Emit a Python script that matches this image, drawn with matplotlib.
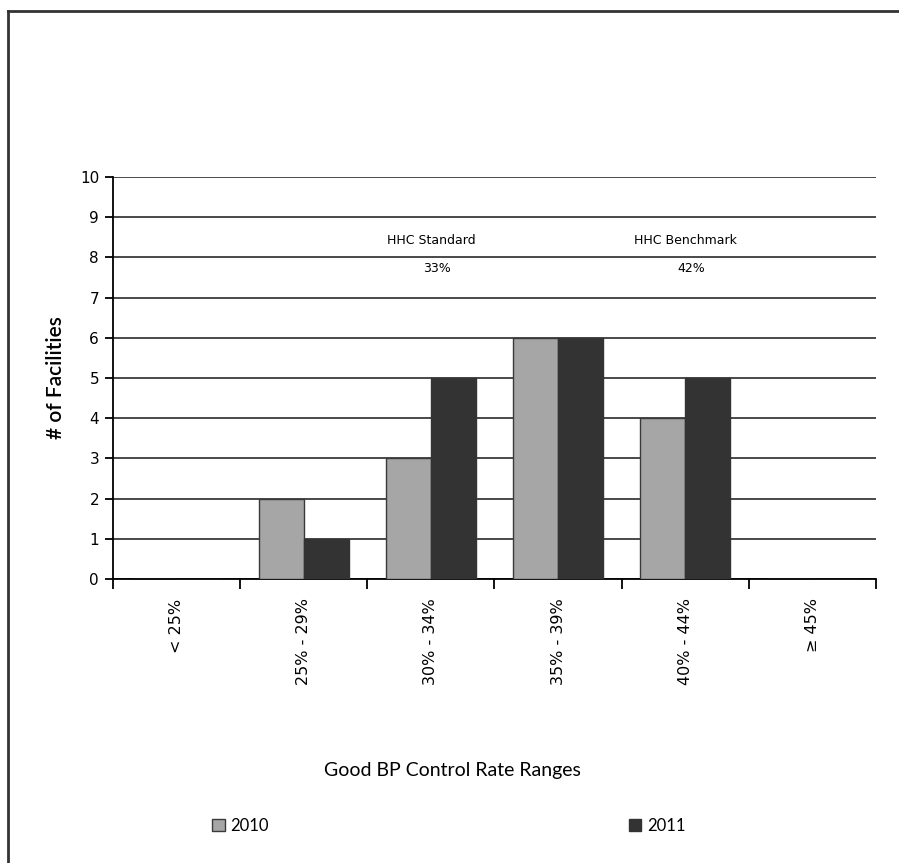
import matplotlib
matplotlib.use("Agg")
import matplotlib.pyplot as plt
from matplotlib.patches import Patch
from matplotlib.lines import Line2D
import numpy as np

# categories and counts per year
ranges = ["< 25%", "25% - 29%", "30% - 34%", "35% - 39%", "40% - 44%", "\u2265 45%"]
counts_2010 = [0, 2, 3, 6, 4, 0]
counts_2011 = [0, 1, 5, 6, 5, 0]
years = ["2010", "2011"]

# reference lines written above the bars
ref_labels = ["HHC Standard", "HHC Benchmark"]
ref_values = ["33%", "42%"]
ref_pos = [2, 4]

c2010 = "#a6a6a6"
c2011 = "#333333"

fig = plt.figure(figsize=(8.99, 8.63), dpi=100)
ax = fig.add_axes([0.1257, 0.3291, 0.8487, 0.4658])

x = np.arange(len(ranges))
w = 0.355
ax.bar(x - w / 2, counts_2010, w, color=c2010, edgecolor="#3a3a3a", linewidth=1.0, zorder=3)
ax.bar(x + w / 2, counts_2011, w, color=c2011, edgecolor=c2011, linewidth=1.0, zorder=3)

ax.set_xlim(-0.5, len(ranges) - 0.5)
ax.set_ylim(0, 10)
ax.set_yticks(range(0, 11))
ax.yaxis.grid(True, color="#3a3a3a", linewidth=1.3, zorder=0)
ax.set_axisbelow(True)

for s in ["top", "right"]:
    ax.spines[s].set_visible(False)
ax.spines["left"].set_linewidth(1.3)
ax.spines["bottom"].set_linewidth(1.3)

ax.set_xticks(x)
ax.set_xticklabels(ranges, rotation=90, fontsize=11.5, family="DejaVu Sans")
ax.set_xticks(np.arange(-0.5, len(ranges)), minor=True)
ax.tick_params(axis="x", which="major", length=0, pad=14)
ax.tick_params(axis="x", which="minor", length=7, width=1.3, direction="out")
ax.tick_params(axis="y", length=6, width=1.3, labelsize=11, pad=4)

for p, lab, val in zip(ref_pos, ref_labels, ref_values):
    ax.text(p, 8.42, lab, ha="center", va="center", fontsize=9, family="DejaVu Sans")
    ax.text(p + 0.05, 7.73, val, ha="center", va="center", fontsize=9, family="DejaVu Sans")

ax.set_ylabel("# of Facilities", fontsize=15, family="Lato", fontweight="semibold", labelpad=10)
ax.set_xlabel("Good BP Control Rate Ranges", fontsize=14, family="Lato")
ax.xaxis.set_label_coords(0.445, -0.455)

handles = [Patch(facecolor=c2010, edgecolor="#3a3a3a"), Patch(facecolor=c2011, edgecolor=c2011)]
fig.legend(handles, years, ncol=2, loc="center left", bbox_to_anchor=(0.236, 0.043),
           frameon=False, prop={"family": "Lato", "size": 12},
           handlelength=0.75, handleheight=0.75, handletextpad=0.35, columnspacing=21.6,
           borderaxespad=0, borderpad=0)

# page border on the left and top
fig.add_artist(Line2D([0.009, 0.009], [0, 0.987], transform=fig.transFigure, color="#333333", linewidth=2))
fig.add_artist(Line2D([0.009, 1.0], [0.987, 0.987], transform=fig.transFigure, color="#333333", linewidth=2))

fig.savefig("out.png", dpi=100)
